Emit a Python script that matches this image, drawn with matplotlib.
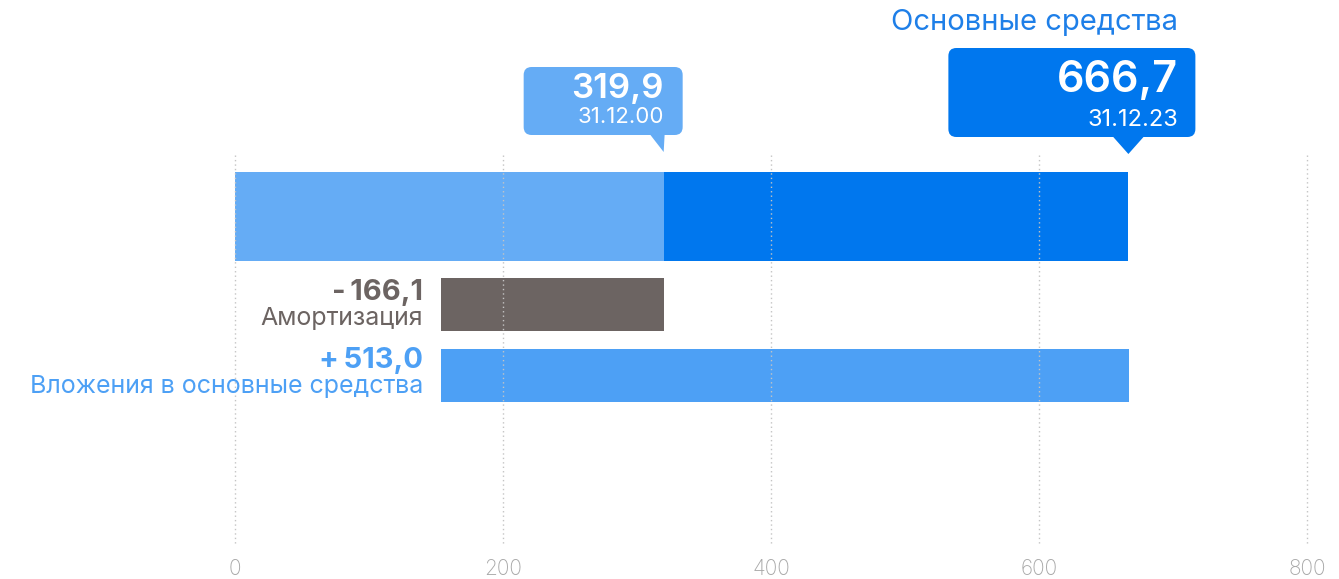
import matplotlib
matplotlib.use("Agg")
import matplotlib.pyplot as plt
from matplotlib.patches import FancyBboxPatch, Polygon

plt.rcParams['font.family'] = ['Inter', 'DejaVu Sans']

# ---- data ----
title = "Основные средства"
start_value = 319.9
start_date = "31.12.00"
end_value = 666.7
end_date = "31.12.23"
change_labels = ["Амортизация", "Вложения в основные средства"]
change_values = [-166.1, 513.0]
change_texts = ["-\u2009166,1", "+\u2009513,0"]
x_ticks = [0, 200, 400, 600, 800]
x_tick_labels = ["0", "200", "400", "600", "800"]

# ---- style ----
c_start = "#65ACF5"
c_end = "#0077EE"
c_amort = "#6C6462"
c_invest = "#4DA0F5"
c_title = "#1E7FE8"
c_grid = "#C4C4C4"
c_tick = "#A8A8A8"

W, H = 1339, 579
fig = plt.figure(figsize=(W / 100, H / 100), dpi=100)
ax = fig.add_axes([0, 0, 1, 1])
x0_px = 235.0
scale = 1.34  # pixels per unit
ax.set_xlim(-x0_px / scale, (W - x0_px) / scale)
ax.set_ylim(H, 0)
ax.axis("off")

def dx(px):
    """pixel width -> data width"""
    return px / scale

# gridlines & ticks
for t, lab in zip(x_ticks, x_tick_labels):
    ax.plot([t, t], [155, 546], color=c_grid, lw=1.0, ls=(0, (1, 2.2)), zorder=3)
    ax.text(t, 569, lab, ha="center", va="center", fontsize=15, fontweight="light",
            color=c_tick)

# top bar: start + growth to end
top_y, top_h = 216, 89
ax.barh(top_y, start_value, height=top_h, left=0, color=c_start, zorder=2)
ax.barh(top_y, end_value - start_value, height=top_h, left=start_value, color=c_end, zorder=2)

# waterfall change bars
row_y = [304, 375]
row_h = 53
row_colors = [c_amort, c_invest]
level = start_value
for y, v, col in zip(row_y, change_values, row_colors):
    if v < 0:
        left = level + v
        width = -v
    else:
        left = level
        width = v
    level = level + v
    ax.barh(y, width, height=row_h, left=left, color=col, zorder=2)

# labels for change rows (right aligned before the bar start)
label_x = start_value + change_values[0] - dx(18)
ax.text(label_x, 293, change_texts[0], ha="right", va="center", fontsize=21,
        fontweight="bold", color=c_amort)
ax.text(label_x, 318, change_labels[0], ha="right", va="center", fontsize=18,
        color=c_amort)
ax.text(label_x, 361, change_texts[1], ha="right", va="center", fontsize=21,
        fontweight="bold", color=c_invest)
ax.text(label_x, 386, change_labels[1], ha="right", va="center", fontsize=18,
        color=c_invest)

# callouts
def callout(xv, left_px, right_px, top, bottom, tip_y, col, tri_left_px, tri_right_px,
            big, small, big_fs, small_fs, text_right_px, big_y, small_y):
    box = FancyBboxPatch((xv + dx(left_px), top), dx(right_px - left_px), bottom - top,
                         boxstyle="round,pad=0,rounding_size=%f" % dx(8),
                         mutation_aspect=scale, fc=col, ec="none", zorder=4)
    ax.add_patch(box)
    tri = Polygon([(xv + dx(tri_left_px), bottom - 1), (xv + dx(tri_right_px), bottom - 1),
                   (xv, tip_y)], closed=True, fc=col, ec="none", zorder=4)
    ax.add_patch(tri)
    ax.text(xv + dx(text_right_px), big_y, big, ha="right", va="center", fontsize=big_fs,
            fontweight="semibold", color="white", zorder=5)
    ax.text(xv + dx(text_right_px), small_y, small, ha="right", va="center", fontsize=small_fs,
            color="white", zorder=5)

callout(start_value, -140, 19, 67, 135, 152, c_start, -14, 1,
        "319,9", start_date, 25, 16, 0, 89, 117)
callout(end_value, -180, 67, 48, 137, 154, c_end, -16, 16,
        "666,7", end_date, 31, 17, 50, 81, 120)

ax.text(end_value + dx(50), 22, title, ha="right", va="center", fontsize=21, color=c_title)

fig.savefig("out.png", dpi=100)
